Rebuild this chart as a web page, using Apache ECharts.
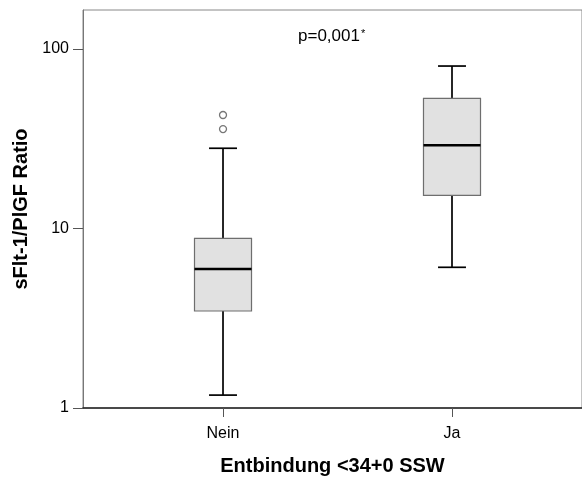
<!DOCTYPE html>
<html>
<head>
<meta charset="utf-8">
<script src="https://cdn.jsdelivr.net/npm/echarts@6/dist/echarts.min.js"></script>
<style>
  html, body { margin: 0; padding: 0; background: #ffffff; }
  #chart { width: 582px; height: 477px; }
</style>
</head>
<body>
<div id="chart"></div>
<script>
// Groups on the x axis
const categories = ['Nein', 'Ja'];
// Box statistics per group: [lower whisker, Q1, median, Q3, upper whisker]
const boxStats = [
  [1.18, 3.47, 5.95, 8.82, 28.0],
  [6.08, 15.3, 29.1, 53.1, 80.4]
];
// Outliers: [group index, value]
const outliers = [
  [0, 42.9],
  [0, 35.8]
];
// Y tick values (log scale)
const yTicks = [1, 10, 100];
const annotation = 'p=0,001';

const chart = echarts.init(document.getElementById('chart'), null, { renderer: 'canvas' });

const FONT = '"Liberation Sans", Arial, sans-serif';

const boxData = boxStats.map((s, i) => [i].concat(s));

// One box with whiskers per group, placed through the axis scales
function renderBox(params, api) {
  const x = api.value(0);
  const lo = api.value(1), q1 = api.value(2), med = api.value(3), q3 = api.value(4), hi = api.value(5);
  const unit = api.size([1, 0])[0];
  const halfBox = unit * 0.1245;
  const halfCap = unit * 0.061;
  const pLo = api.coord([x, lo]);
  const pQ1 = api.coord([x, q1]);
  const pMed = api.coord([x, med]);
  const pQ3 = api.coord([x, q3]);
  const pHi = api.coord([x, hi]);
  const cx = pLo[0];
  const whisker = { stroke: '#000000', lineWidth: 1.7 };
  return {
    type: 'group',
    children: [
      { type: 'line', shape: { x1: cx, y1: pQ1[1], x2: cx, y2: pLo[1] }, style: whisker },
      { type: 'line', shape: { x1: cx, y1: pQ3[1], x2: cx, y2: pHi[1] }, style: whisker },
      { type: 'line', shape: { x1: cx - halfCap, y1: pLo[1], x2: cx + halfCap, y2: pLo[1] }, style: whisker },
      { type: 'line', shape: { x1: cx - halfCap, y1: pHi[1], x2: cx + halfCap, y2: pHi[1] }, style: whisker },
      {
        type: 'rect',
        shape: { x: cx - halfBox, y: pQ3[1], width: halfBox * 2, height: pQ1[1] - pQ3[1] },
        style: { fill: '#e1e1e1', stroke: '#6e6e6e', lineWidth: 1.2 }
      },
      { type: 'line', shape: { x1: cx - halfBox, y1: pMed[1], x2: cx + halfBox, y2: pMed[1] }, style: { stroke: '#000000', lineWidth: 2.6 } }
    ]
  };
}

const option = {
  backgroundColor: '#ffffff',
  animation: false,
  title: {
    text: '{p|' + annotation + '}{s|*}',
    left: 298,
    top: 28,
    padding: 0,
    textStyle: {
      rich: {
        p: { fontFamily: FONT, fontSize: 17, fontWeight: 'normal', color: '#000000' },
        s: { fontFamily: FONT, fontSize: 11, fontWeight: 'normal', color: '#000000', verticalAlign: 'top', padding: [0, 0, 6, 1] }
      }
    }
  },
  grid: {
    left: 83, right: 0, top: 10, bottom: 69,
    outerBoundsMode: 'none',
    show: true, borderColor: '#888888', borderWidth: 1, backgroundColor: 'transparent'
  },
  xAxis: {
    type: 'value',
    min: -0.6114,
    max: 1.5677,
    name: 'Entbindung <34+0 SSW',
    nameLocation: 'middle',
    nameGap: 48,
    nameTextStyle: { fontFamily: FONT, fontSize: 20, fontWeight: 'bold', color: '#000000' },
    splitLine: { show: false },
    axisLine: { show: true, onZero: false, lineStyle: { color: '#222222', width: 1.5 } },
    axisTick: { show: true, length: 9, lineStyle: { color: '#555555' }, customValues: [0, 1] },
    axisLabel: {
      customValues: [0, 1],
      formatter: v => categories[Math.round(v)] || '',
      fontFamily: FONT, fontSize: 16, color: '#000000', margin: 18
    }
  },
  yAxis: {
    type: 'log',
    logBase: 10,
    min: 1,
    max: 165,
    name: 'sFlt-1/PlGF Ratio',
    nameLocation: 'middle',
    nameGap: 51,
    nameTextStyle: { fontFamily: FONT, fontSize: 20, fontWeight: 'bold', color: '#000000' },
    splitLine: { show: false },
    axisLine: { show: true, onZero: false, lineStyle: { color: '#777777', width: 1 } },
    axisTick: { show: true, length: 10, lineStyle: { color: '#555555' }, customValues: yTicks },
    axisLabel: {
      customValues: yTicks,
      fontFamily: FONT, fontSize: 16, color: '#000000', margin: 14,
      formatter: v => String(Math.round(v))
    }
  },
  series: [
    {
      type: 'custom',
      renderItem: renderBox,
      data: boxData,
      encode: { x: 0, y: [1, 2, 3, 4, 5] },
      clip: false
    },
    {
      type: 'scatter',
      data: outliers,
      symbol: 'circle',
      symbolSize: 7,
      itemStyle: { color: '#ffffff', borderColor: '#555555', borderWidth: 1.3 }
    }
  ]
};

chart.setOption(option);
</script>
</body>
</html>
